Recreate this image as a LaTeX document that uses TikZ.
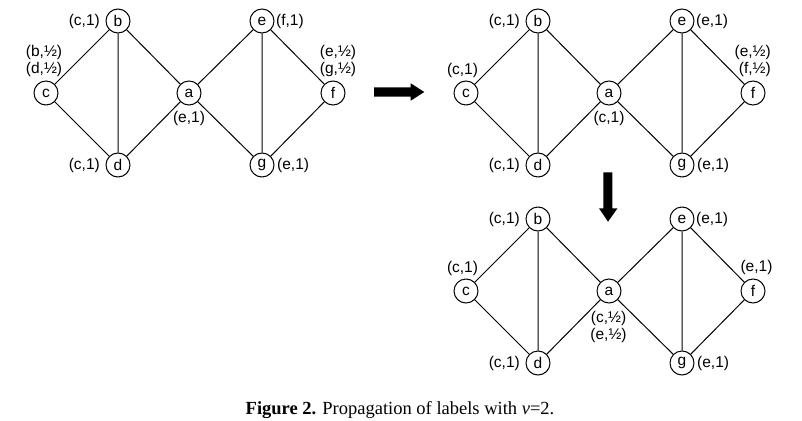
\documentclass[tikz,border=0pt]{standalone}
\usepackage{fontspec}
\setmainfont{Liberation Serif}
\newfontfamily\labfont{Liberation Sans}
\newcommand\drawgraph[1]{%
  \node[vx] (b#1) at (118,21) {b};
  \node[vx] (c#1) at (46,93) {c};
  \node[vx] (a#1) at (189,93) {a};
  \node[vx] (d#1) at (118,165) {d};
  \node[vx] (e#1) at (262,21) {e};
  \node[vx] (f#1) at (333,93) {f};
  \node[vx] (g#1) at (262,165) {g};
  \draw[edgeline] (b#1)--(c#1) (b#1)--(d#1) (b#1)--(a#1) (c#1)--(d#1) (d#1)--(a#1)
    (a#1)--(e#1) (a#1)--(g#1) (e#1)--(g#1) (e#1)--(f#1) (g#1)--(f#1);
}
\begin{document}
\begin{tikzpicture}[x=1pt,y=-1pt,
  vx/.style={draw, circle, minimum size=24pt, inner sep=0pt,
    font=\labfont\fontsize{15.5}{17}\selectfont, line width=1pt},
  lab/.style={inner sep=0pt, font=\labfont\fontsize{15.5}{17}\selectfont, align=center},
  edgeline/.style={line width=1pt}]
\useasboundingbox (0,0) rectangle (802,420);
% graph 1
\begin{scope}
  \drawgraph{1}
  \node[lab, anchor=east] (lb1) at (100,21) {(c,1)};
  \node[lab, anchor=east] (ld1) at (100,165) {(c,1)};
  \node[lab, anchor=west] (le1) at (276,21) {(f,1)};
  \node[lab, anchor=west] (lg1) at (277,165) {(e,1)};
  \node[lab] (la1) at (189,118) {(e,1)};
  \node[lab] (lc1) at (44,60.5) {(b,½)\\(d,½)};
  \node[lab] (lf1) at (338,60.5) {(e,½)\\(g,½)};
\end{scope}
% graph 2
\begin{scope}[shift={(420,0)}]
  \drawgraph{2}
  \node[lab, anchor=east] (lb2) at (100,21) {(c,1)};
  \node[lab, anchor=east] (ld2) at (100,165) {(c,1)};
  \node[lab, anchor=west] (le2) at (276,21) {(e,1)};
  \node[lab, anchor=west] (lg2) at (277,165) {(e,1)};
  \node[lab] (la2) at (189,118) {(c,1)};
  \node[lab] (lc2) at (42.5,70) {(c,1)};
  \node[lab, align=right, anchor=east] (lf2) at (351,61) {(e,½)\\(f,½)};
\end{scope}
% graph 3
\begin{scope}[shift={(420,198)}]
  \drawgraph{3}
  \node[lab, anchor=east] (lb3) at (100,21) {(c,1)};
  \node[lab, anchor=east] (ld3) at (100,165) {(c,1)};
  \node[lab, anchor=west] (le3) at (276,21) {(e,1)};
  \node[lab, anchor=west] (lg3) at (277,165) {(e,1)};
  \node[lab] (la3) at (188.5,128.5) {(c,½)\\(e,½)};
  \node[lab] (lc3) at (42.5,70) {(c,1)};
  \node[lab] (lf3) at (336.5,69) {(e,1)};
\end{scope}
% arrows
\fill (374,87.3) -- (410.7,87.3) -- (410.7,83.3) -- (424.3,92) -- (410.7,100.7) -- (410.7,96.7) -- (374,96.7) -- cycle;
\fill (603.3,172.3) -- (612.3,172.3) -- (612.3,208.3) -- (617.5,208.3) -- (608,221.7) -- (599,208.3) -- (603.3,208.3) -- cycle;
% caption
\node[inner sep=0pt, anchor=base, font=\fontsize{18.5}{20}\selectfont] (cap) at (400,414)
  {\textbf{Figure 2.} Propagation of labels with \textit{v}=2.};
\end{tikzpicture}
\end{document}
